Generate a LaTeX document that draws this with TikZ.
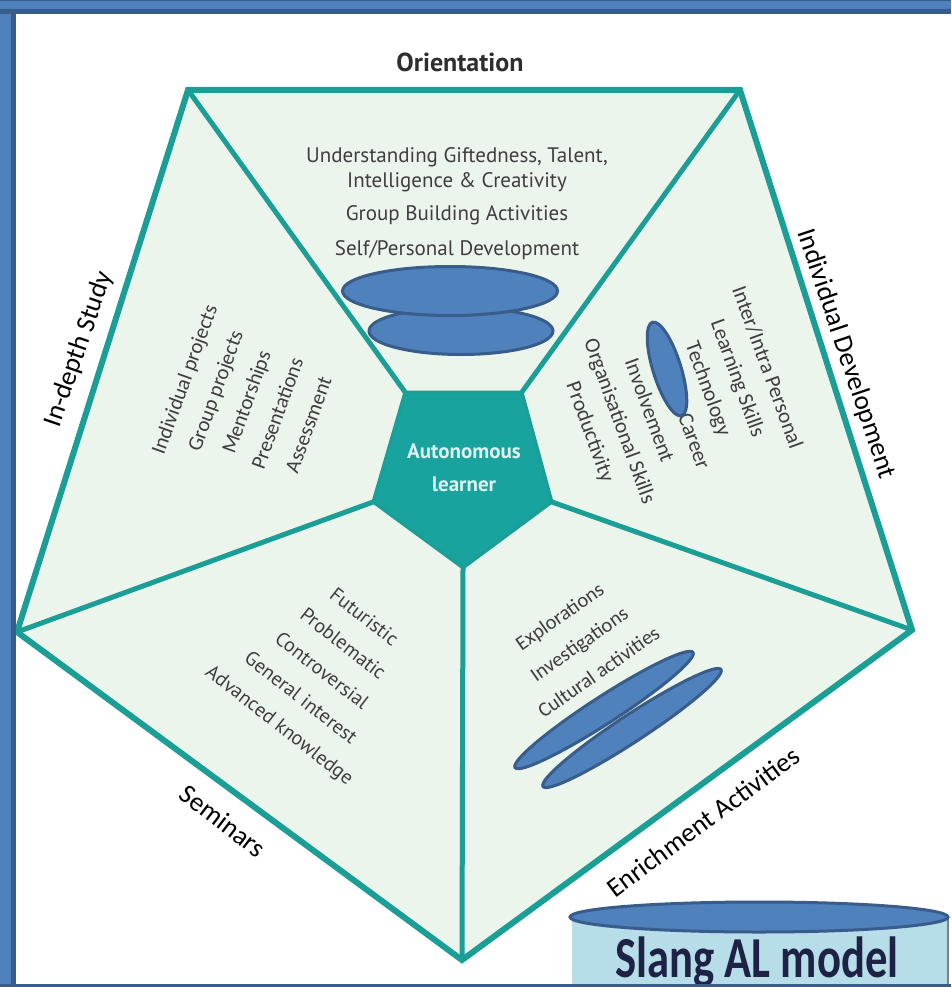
\documentclass[tikz,border=0pt]{standalone}
\usepackage{fontspec}
\setmainfont{Carlito}
\newfontfamily\dinf{PT Sans}
\newfontfamily\calf{Carlito}
\usetikzlibrary{shapes.geometric}
\definecolor{tealline}{RGB}{26,158,150}
\definecolor{tealfill}{RGB}{24,163,158}
\definecolor{paleg}{RGB}{236,245,236}
\definecolor{frameb}{RGB}{79,129,189}
\definecolor{framed}{RGB}{56,93,138}
\definecolor{txtg}{RGB}{62,62,62}
\definecolor{boxb}{RGB}{183,221,232}
\definecolor{slangtxt}{RGB}{30,35,70}
\definecolor{autotxt}{RGB}{222,242,240}
\tikzset{
  spoke/.style={draw=tealline, line width=5pt},
  blob/.style={ellipse, draw=framed, fill=frameb, line width=3pt, inner sep=0pt},
  edgelabel/.style={font=\calf\fontsize{27}{27}\selectfont, text=black, inner sep=0pt},
  dinline/.style={font=\dinf\fontsize{21}{24}\selectfont, text=txtg, inner sep=0pt},
  sectortext/.style={align=center, text=txtg, inner sep=0pt}
}
\begin{document}
\begin{tikzpicture}[x=1pt,y=-1pt]
\useasboundingbox (0,0) rectangle (951,987);
\fill[white] (0,0) rectangle (951,987);

% pentagon vertices
\coordinate (oTL) at (188,90);
\coordinate (oTR) at (740,90);
\coordinate (oR) at (912,630);
\coordinate (oB) at (462,960);
\coordinate (oL) at (17,632);
\coordinate (iTL) at (405,392);
\coordinate (iTR) at (522,392);
\coordinate (iR) at (552,502);
\coordinate (iB) at (463,568);
\coordinate (iL) at (373,502);

\filldraw[fill=paleg, draw=tealline, line width=6pt, line join=miter]
  (oTL) -- (oTR) -- (oR) -- (oB) -- (oL) -- cycle;
\draw[spoke] (oTL) -- (iTL);
\draw[spoke] (oTR) -- (iTR);
\draw[spoke] (oR) -- (iR);
\draw[spoke] (oB) -- (iB);
\draw[spoke] (oL) -- (iL);
\filldraw[fill=tealfill, draw=tealline, line width=3pt, line join=round]
  (iTL) -- (iTR) -- (iR) -- (iB) -- (iL) -- cycle;

\node[align=center, text=autotxt, font=\dinf\bfseries\fontsize{21}{33}\selectfont, inner sep=0pt]
  (auto) at (464,468) {Autonomous\\learner};

% edge labels
\node[font=\dinf\bfseries\fontsize{26}{26}\selectfont, text=black!82, inner sep=0pt] (orient) at (460,62) {Orientation};
\node[edgelabel, rotate=71] (indepth) at (79,349) {In-depth Study};
\node[edgelabel, rotate=-71.5] (indiv) at (846,354) {Individual Development};
\node[edgelabel, rotate=-37.5] (semin) at (223,821) {Seminars};
\node[edgelabel, rotate=36.4] (enrich) at (703,822) {Enrichment Activities};

% orientation sector
\node[dinline] (o1) at (457,157) {Understanding Giftedness, Talent,};
\node[dinline] (o2) at (457,182) {Intelligence \& Creativity};
\node[dinline] (o3) at (457,215) {Group Building Activities};
\node[dinline] (o4) at (457,250) {Self/Personal Development};

% in-depth sector
\node[sectortext, rotate=70, font=\calf\fontsize{21}{33}\selectfont] (ids) at (246,402)
  {Individual projects\\Group projects\\Mentorships\\Presentations\\Assessment};

% individual development sector
\node[sectortext, rotate=-70, font=\calf\fontsize{21.5}{31.4}\selectfont] (ids2) at (678,400)
  {Inter/Intra Personal\\Learning Skills\\Technology\\\phantom{College \&} Career\\Involvement\\Organisational Skills\\Productivity};

% seminars sector
\node[sectortext, rotate=-38, font=\dinf\fontsize{20}{34.3}\selectfont] (sem) at (321,672)
  {Futuristic\\Problematic\\Controversial\\General interest\\Advanced knowledge};

% enrichment sector
\node[sectortext, rotate=35, font=\calf\fontsize{20.5}{34}\selectfont] (enr) at (579,644)
  {Explorations\\Investigations\\Cultural activities};

% ellipses
\node[blob, minimum width=184pt, minimum height=47pt] (eB) at (461,331) {};
\node[blob, minimum width=215pt, minimum height=49pt] (eA) at (450,291) {};
\node[blob, minimum width=98pt, minimum height=28pt, rotate=-72.7] (eR) at (667,369) {};
\node[blob, minimum width=213pt, minimum height=27pt, rotate=33.3] (eD) at (632,728) {};
\node[blob, minimum width=212pt, minimum height=27pt, rotate=32.9] (eC) at (604,710) {};

% Slang AL model box
\fill[boxb] (572,917) rectangle (948,987);
\draw[gray, line width=2pt] (948,917) -- (948,987);
\node[blob, minimum width=378pt, minimum height=30pt] (eTop) at (759,917) {};
\node[anchor=base, inner sep=0pt, text=slangtxt] (slang) at (757,977)
  {\scalebox{0.77}[1]{\calf\bfseries\fontsize{58}{58}\selectfont Slang AL model}};

% frame
\fill[frameb] (0,0) rectangle (951,14);
\fill[framed] (0,0) rectangle (951,1.5);
\fill[framed] (0,9) rectangle (951,14);
\fill[frameb] (0,14) rectangle (11,987);
\fill[framed] (11,14) rectangle (16,987);
\fill[framed] (0,984) rectangle (951,987);
\end{tikzpicture}
\end{document}
